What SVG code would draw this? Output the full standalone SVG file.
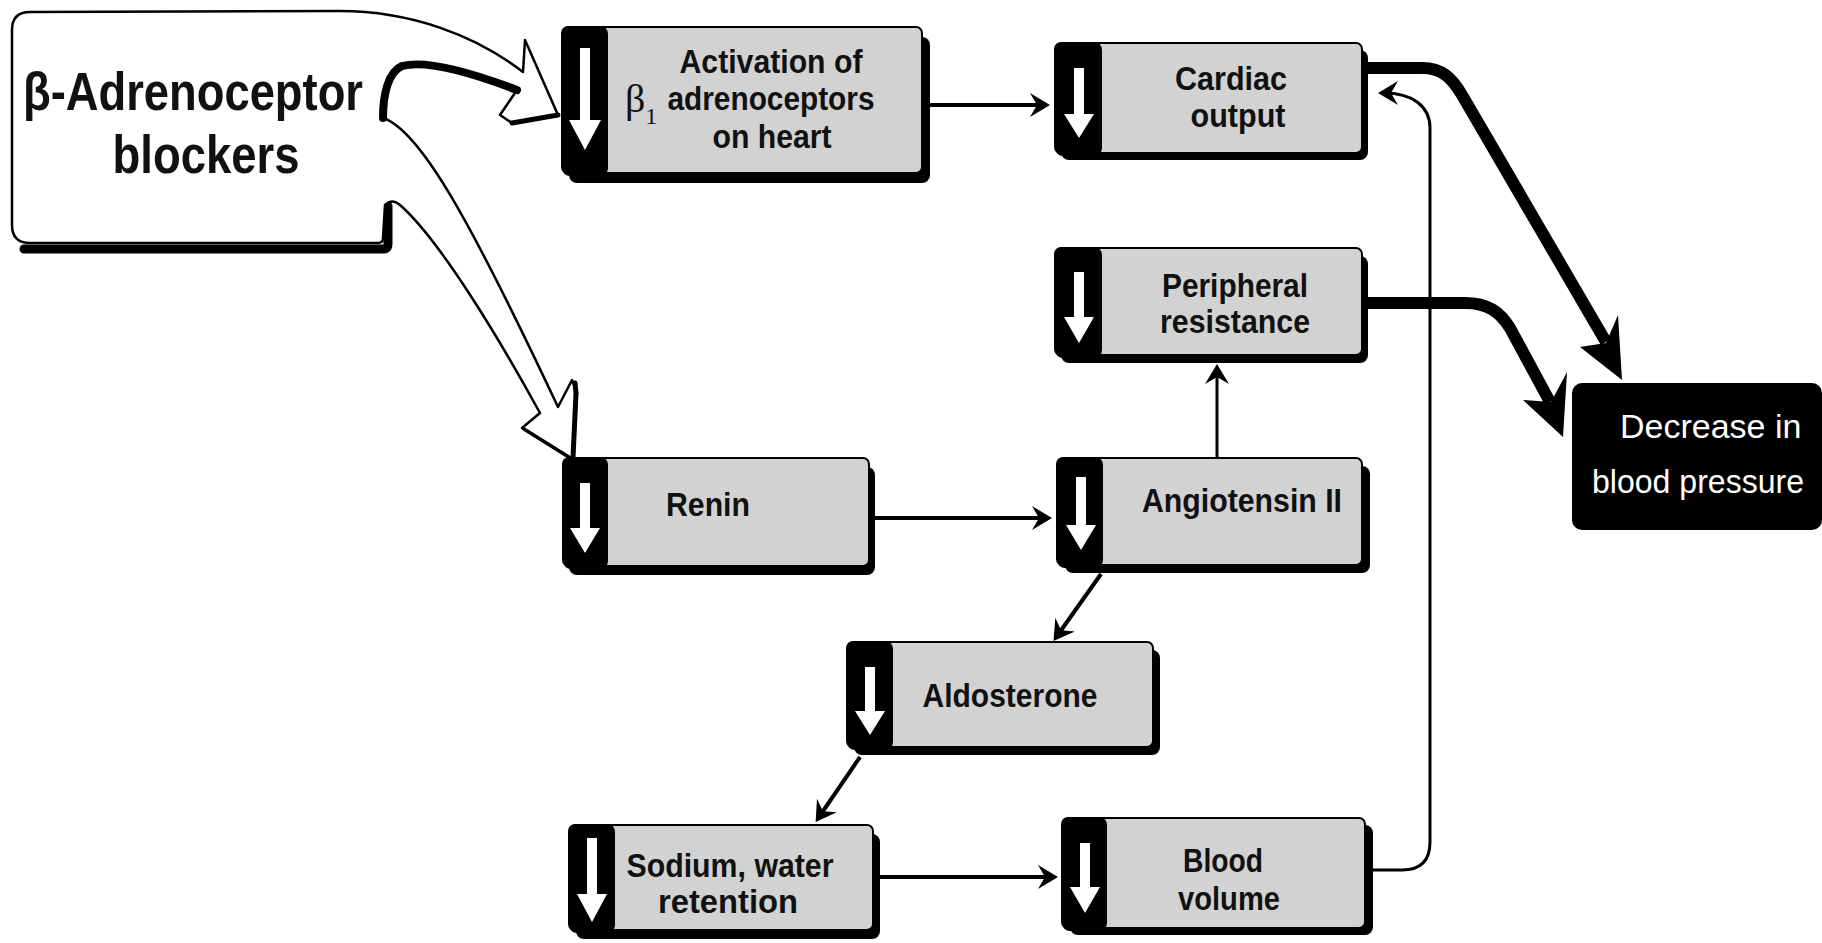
<svg xmlns="http://www.w3.org/2000/svg" width="1822" height="943" viewBox="0 0 1822 943">
<defs>
<style>
.shadow{fill:#000}
.body{fill:#d2d2d2;stroke:#000;stroke-width:2}
.bar{fill:#000}
.down{fill:#fff}
.lbl{font-family:"Liberation Sans",Arial,sans-serif;font-weight:bold;font-size:34px;fill:#111;text-anchor:middle}
.big{font-size:54px}
.gk{font-family:"Liberation Serif","Times New Roman",serif;font-weight:normal;fill:#111}
.conn{stroke:#000;stroke-width:4;fill:none}
.thin{stroke:#000;stroke-width:3;fill:none}
.thick{stroke:#000;stroke-width:12;fill:none;stroke-linejoin:round}
.outline{fill:#fff;stroke:#000;stroke-width:2.5;stroke-linejoin:round}
.heavy{fill:none;stroke:#000;stroke-linecap:round;stroke-linejoin:round}
.wt{font-family:"Liberation Sans",Arial,sans-serif;font-size:34px;fill:#fff}
</style>
<marker id="ah" markerUnits="userSpaceOnUse" viewBox="-26 -13 28 26" refX="-6" refY="0" markerWidth="28" markerHeight="26" orient="auto">
<path d="M0,0 L-20,-12 L-13,0 L-20,12 Z" fill="#000"/>
</marker>
</defs>
<rect x="0" y="0" width="1822" height="943" fill="#fff"/>

<g id="connectors">
<path class="conn" d="M930,105 L1044,105" marker-end="url(#ah)"/>
<path class="conn" d="M875,518 L1046,518" marker-end="url(#ah)"/>
<path class="thin" d="M1217,458 L1217,370" marker-end="url(#ah)"/>
<path class="conn" d="M1101,574 L1057,636" marker-end="url(#ah)"/>
<path class="conn" d="M860,757 L819,817" marker-end="url(#ah)"/>
<path class="conn" d="M880,877 L1052,877" marker-end="url(#ah)"/>
<path class="thin" d="M1373,870 L1402,870 Q1430,870 1430,842 L1430,128 C1430,106 1412,93 1384,93" marker-end="url(#ah)"/>
<path class="thick" d="M1368,68 L1422,68 C1442,68 1452,78 1462,95 L1606,342"/>
<polygon points="1622,380 1618,315 1606,343 1580,347" fill="#000"/>
<path class="thick" d="M1368,303 L1465,303 C1488,303 1500,312 1510,328 L1550,402"/>
<polygon points="1563,437 1567,372 1551,402 1523,400" fill="#000"/>
</g>

<g id="n-blockers">
<path d="M24,249 H384 Q388,249 388,244 V206" class="heavy" stroke-width="9"/>
<path class="outline" d="M12,30 Q12,12 30,12 L340,11 C410,11 475,35 523,72 L525,40 L558,115 L512,123 L500,115 L517,90 C470,72 425,60 402,66 C388,72 383,95 383,118 C420,130 470,220 558,407 L572,380 L577,393 L573,460 L522,428 L540,413 C500,340 440,240 400,205 Q392,198 385,205 L383,238 Q383,243 378,243 L30,243 Q12,243 12,225 Z"/>
<path class="heavy" stroke-width="8" d="M517,90 C470,72 425,60 402,66 C388,72 383,95 383,118"/>
<path class="heavy" stroke-width="5" d="M558,115 L512,123"/>
<path class="heavy" stroke-width="5" d="M575,383 L576,393 L573,458"/>
<path class="heavy" stroke-width="3.5" d="M524,429 L572,459"/>
<text class="lbl big" x="193" y="110" textLength="340" lengthAdjust="spacingAndGlyphs">β-Adrenoceptor</text>
<text class="lbl big" x="206" y="173" textLength="187" lengthAdjust="spacingAndGlyphs">blockers</text>
</g>

<g id="n-activation">
<rect class="shadow" x="569" y="37" width="361" height="146" rx="8"/>
<rect class="body" x="562" y="27" width="360" height="146" rx="6"/>
<rect class="bar" x="562" y="26" width="46" height="150" rx="8"/>
<path class="down" d="M580,48 H590 V120 H601 L585,150 L569,120 H580 Z"/>
<text class="lbl" x="771" y="73" textLength="183" lengthAdjust="spacingAndGlyphs">Activation of</text>
<text class="gk" x="625" y="112" font-size="40">β<tspan font-size="24" dy="12">1</tspan></text>
<text class="lbl" x="771" y="110" textLength="207" lengthAdjust="spacingAndGlyphs">adrenoceptors</text>
<text class="lbl" x="772" y="148" textLength="119" lengthAdjust="spacingAndGlyphs">on heart</text>
</g>

<g id="n-cardiac">
<rect class="shadow" x="1061" y="50" width="307" height="110" rx="8"/>
<rect class="body" x="1055" y="43" width="307" height="110" rx="6"/>
<rect class="bar" x="1055" y="42" width="47" height="114" rx="8"/>
<path class="down" d="M1074,68 H1084 V114 H1094 L1079,138 L1064,114 H1074 Z"/>
<text class="lbl" x="1231" y="90" textLength="112" lengthAdjust="spacingAndGlyphs">Cardiac</text>
<text class="lbl" x="1238" y="127" textLength="95" lengthAdjust="spacingAndGlyphs">output</text>
</g>

<g id="n-peripheral">
<rect class="shadow" x="1061" y="256" width="307" height="107" rx="8"/>
<rect class="body" x="1055" y="248" width="307" height="107" rx="6"/>
<rect class="bar" x="1055" y="247" width="47" height="111" rx="8"/>
<path class="down" d="M1074,272 H1084 V317 H1094 L1079,343 L1064,317 H1074 Z"/>
<text class="lbl" x="1235" y="297" textLength="146" lengthAdjust="spacingAndGlyphs">Peripheral</text>
<text class="lbl" x="1235" y="333" textLength="150" lengthAdjust="spacingAndGlyphs">resistance</text>
</g>

<g id="n-renin">
<rect class="shadow" x="569" y="467" width="306" height="108" rx="8"/>
<rect class="body" x="563" y="458" width="306" height="108" rx="6"/>
<rect class="bar" x="563" y="457" width="45" height="112" rx="8"/>
<path class="down" d="M580,483 H590 V528 H600 L585,553 L570,528 H580 Z"/>
<text class="lbl" x="708" y="516" textLength="84" lengthAdjust="spacingAndGlyphs">Renin</text>
</g>

<g id="n-angiotensin">
<rect class="shadow" x="1065" y="466" width="305" height="107" rx="8"/>
<rect class="body" x="1057" y="458" width="305" height="107" rx="6"/>
<rect class="bar" x="1057" y="457" width="46" height="111" rx="8"/>
<path class="down" d="M1076,477 H1086 V525 H1096 L1081,550 L1066,525 H1076 Z"/>
<text class="lbl" x="1242" y="512" textLength="200" lengthAdjust="spacingAndGlyphs">Angiotensin II</text>
</g>

<g id="n-aldosterone">
<rect class="shadow" x="854" y="650" width="306" height="105" rx="8"/>
<rect class="body" x="847" y="642" width="306" height="105" rx="6"/>
<rect class="bar" x="847" y="641" width="46" height="109" rx="8"/>
<path class="down" d="M865,667 H875 V711 H885 L870,735 L855,711 H865 Z"/>
<text class="lbl" x="1010" y="707" textLength="175" lengthAdjust="spacingAndGlyphs">Aldosterone</text>
</g>

<g id="n-sodium">
<rect class="shadow" x="576" y="834" width="304" height="105" rx="8"/>
<rect class="body" x="569" y="825" width="304" height="105" rx="6"/>
<rect class="bar" x="569" y="824" width="46" height="109" rx="8"/>
<path class="down" d="M587,838 H597 V894 H607 L592,922 L577,894 H587 Z"/>
<text class="lbl" x="730" y="877" textLength="207" lengthAdjust="spacingAndGlyphs">Sodium, water</text>
<text class="lbl" x="728" y="913" textLength="140" lengthAdjust="spacingAndGlyphs">retention</text>
</g>

<g id="n-blood">
<rect class="shadow" x="1070" y="825" width="303" height="110" rx="8"/>
<rect class="body" x="1062" y="818" width="303" height="110" rx="6"/>
<rect class="bar" x="1062" y="817" width="45" height="114" rx="8"/>
<path class="down" d="M1080,843 H1090 V887 H1100 L1085,913 L1070,887 H1080 Z"/>
<text class="lbl" x="1223" y="872" textLength="80" lengthAdjust="spacingAndGlyphs">Blood</text>
<text class="lbl" x="1229" y="910" textLength="102" lengthAdjust="spacingAndGlyphs">volume</text>
</g>

<g id="n-decrease">
<rect x="1572" y="383" width="250" height="147" rx="10" fill="#000"/>
<text class="wt" x="1620" y="438">Decrease in</text>
<text class="wt" x="1592" y="493" textLength="212" lengthAdjust="spacingAndGlyphs">blood pressure</text>
</g>
</svg>
